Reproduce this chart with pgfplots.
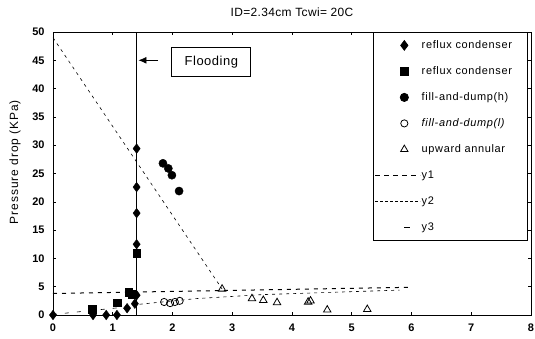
\documentclass[border=0pt]{standalone}
\usepackage{pgfplots}
\pgfplotsset{compat=1.18}
\usepackage{fontspec}
\setmainfont{Liberation Sans}
\usetikzlibrary{arrows.meta}
\begin{document}
\begin{tikzpicture}
\begin{axis}[
  at={(0,0)}, anchor=south west,
  scale only axis, width=478bp, height=283bp,
  xmin=0, xmax=8, ymin=0, ymax=50,
  xtick={0,1,...,8}, ytick={0,5,...,50},
  tick align=inside, major tick length=3bp,
  axis line style={line width=0.8pt},
  tick style={line width=0.6pt, black},
  /pgf/number format/assume math mode=true,
  tick label style={font=\fontsize{11}{11}\selectfont\bfseries},
  xticklabel style={yshift=-5bp},
  yticklabel style={xshift=-5bp},
  title={ID=2.34cm Tcwi= 20C},
  title style={font=\fontsize{12}{12}\selectfont\addfontfeature{LetterSpace=3}, at={(rel axis cs:0.5,1)}, anchor=base, yshift=9.5bp},
  ylabel={Pressure drop (KPa)},
  ylabel style={font=\fontsize{12}{12}\selectfont\addfontfeature{LetterSpace=8}, at={(rel axis cs:0,0.54)}, anchor=center, yshift=38bp},
  legend image code/.code={\draw[mark repeat=2,mark phase=2,#1] plot coordinates {(0bp,0bp) (29bp,0bp) (45bp,0bp)};},
  legend style={at={(rel axis cs:0.994,1)}, anchor=north east, draw=black, line width=0.8pt,
    font=\fontsize{11}{11}\selectfont\addfontfeature{LetterSpace=6}, inner xsep=2bp, inner ysep=7bp, row sep=14bp,
    nodes={inner sep=1bp, text height=8bp, text depth=2bp}},
  legend cell align=left,
]
% lines (drawn underneath)
\addplot[black, line width=0.6pt, dash pattern=on 3bp off 4bp, forget plot] coordinates {(0,49) (2.83,4.6)};
\addplot[black, line width=0.6pt, dash pattern=on 3bp off 4bp, forget plot] coordinates {(1.45,1.9) (2.4,2.9) (3.5,3.6) (5.8,4.4)};
\addplot[black, line width=1pt, dash pattern=on 4bp off 5bp, forget plot] coordinates {(0,3.8) (6,4.9)};
\addplot[black, line width=0.6pt, dash pattern=on 4bp off 8bp, forget plot] coordinates {(0,0.1) (1.3,1.5)};
\addplot[black, line width=1.4pt, forget plot] coordinates {(1.4,0) (1.4,50)};
% markers
\addplot[only marks, mark=diamond*, mark size=4.8bp, black] coordinates {
(0,0) (0.67,0) (0.89,0) (1.07,0) (1.24,1.2) (1.37,2.0) (1.4,3.5) (1.4,12.5) (1.4,18) (1.4,22.6) (1.4,29.4)};
\addlegendentry{\makebox[103bp][l]{reflux condenser}}
\addplot[only marks, mark=square*, mark size=3.8bp, black] coordinates {
(0.66,1.0) (1.07,2.2) (1.27,4.0) (1.33,3.7) (1.4,10.9)};
\addlegendentry{reflux condenser}
\addplot[only marks, mark=*, mark size=4.1bp, black] coordinates {
(1.84,26.8) (1.93,25.9) (1.99,24.7) (2.11,21.9)};
\addlegendentry{fill-and-dump(h)}
\addplot[only marks, mark=o, mark size=3.6bp, black, mark options={line width=0.8pt, fill=white}] coordinates {
(1.86,2.3) (1.96,2.1) (2.04,2.3) (2.12,2.5)};
\addlegendentry{\itshape fill-and-dump(l)}
\addplot[only marks, mark=triangle, mark size=4.3bp, black, mark options={line width=0.8pt}] coordinates {
(2.83,4.6) (3.33,2.9) (3.52,2.6) (3.75,2.2) (4.27,2.3) (4.31,2.5) (4.59,0.9) (5.26,1.0)};
\addlegendentry{upward annular}
\addlegendimage{black, line width=0.6pt, dash pattern=on 5bp off 4bp}
\addlegendentry{y1}
\addlegendimage{black, line width=0.6pt, dash pattern=on 3bp off 2bp}
\addlegendentry{y2}
\addlegendimage{black, line width=0.8pt, dash pattern=on 0bp off 29bp on 6bp off 20bp}
\addlegendentry{y3}
% flooding annotation
\node[draw, line width=0.8pt, minimum width=79bp, minimum height=29bp, inner sep=0pt,
  font=\fontsize{13}{13}\selectfont\addfontfeature{LetterSpace=4}] at (axis cs:2.65,44.7) {Flooding};
\draw[-{Latex[length=8bp,width=7bp]}, line width=0.8pt] (axis cs:1.76,45) -- (axis cs:1.43,45);
\end{axis}
\pgfresetboundingbox
\path (-53bp,-24bp) rectangle (482bp,315bp);
\end{tikzpicture}
\end{document}
